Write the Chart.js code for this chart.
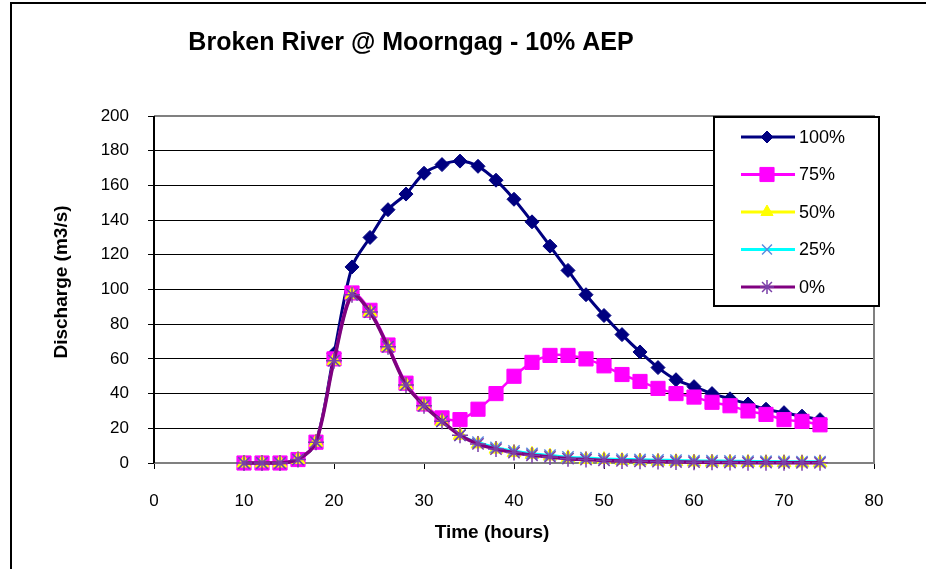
<!DOCTYPE html>
<html>
<head>
<meta charset="utf-8">
<title>Broken River @ Moorngag - 10% AEP</title>
<script src="https://cdn.jsdelivr.net/npm/chart.js@4/dist/chart.umd.min.js"></script>
<style>
    html, body { margin: 0; padding: 0; background: #fff; }
    #wrap { width: 926px; height: 569px; position: relative; }
</style>
</head>
<body>
<div id="wrap"><canvas id="grafico" width="926" height="569"></canvas></div>
<script>
// ---- datos ----
const tiempo = [10, 12, 14, 16, 18, 20, 22, 24, 26, 28, 30, 32, 34, 36, 38, 40, 42, 44, 46, 48, 50, 52, 54, 56, 58, 60, 62, 64, 66, 68, 70, 72, 74];

const q100 = [0, 0, 0, 2, 12, 63, 113, 130, 146, 155, 167, 172, 174, 171, 163, 152, 139, 125, 111, 97, 85, 74, 64, 55, 48, 44, 40, 37, 34, 31, 29, 27, 25];
const q75 = [0, 0, 0, 2, 12, 60, 98, 88, 68, 46, 34, 26, 25, 31, 40, 50, 58, 62, 62, 60, 56, 51, 47, 43, 40, 38, 35, 33, 30, 28, 25, 24, 22];
const q50 = [0, 0, 0, 2, 12, 59, 97, 87, 67, 45, 33, 24, 16, 11, 8, 6, 5, 4, 3, 2, 2, 1.5, 1.2, 1, 0.8, 0.6, 0.5, 0.4, 0.3, 0.2, 0.2, 0.1, 0.1];
const q25 = [0, 0, 0, 2, 12, 59, 97, 87, 67, 45, 33, 24, 16, 12, 9, 7, 5.5, 4.5, 3.5, 3, 2.5, 2.2, 2, 1.8, 1.6, 1.4, 1.3, 1.2, 1.1, 1, 0.9, 0.8, 0.8];
const q0 = [0, 0, 0, 2, 12, 59, 97, 87, 67, 45, 33, 24, 16, 11, 8, 6, 4.5, 3.5, 2.5, 2, 1.5, 1.2, 1, 0.8, 0.6, 0.5, 0.4, 0.3, 0.2, 0.2, 0.1, 0.1, 0.1];

const etiquetas = ['100%', '75%', '50%', '25%', '0%'];
const titulo = 'Broken River @ Moorngag - 10% AEP';
const tituloX = 'Time (hours)';
const tituloY = 'Discharge (m3/s)';

const FUENTE = '"Liberation Sans", Arial, sans-serif';

function puntos(valores) {
    return tiempo.map((t, i) => ({ x: t, y: valores[i] }));
}

// -----------------------------
// Plugin: bordes, títulos y leyenda dibujados a mano
// -----------------------------
const decoracion = {
    id: 'decoracion',
    beforeDatasetsDraw(chart) {
        const { ctx, chartArea: a } = chart;
        ctx.save();
        ctx.lineWidth = 2;
        ctx.strokeStyle = '#808080';
        ctx.beginPath();
        ctx.moveTo(a.left, a.top);
        ctx.lineTo(a.right, a.top);
        ctx.lineTo(a.right, a.bottom);
        ctx.lineTo(a.left, a.bottom);
        ctx.stroke();
        ctx.strokeStyle = '#000';
        ctx.beginPath();
        ctx.moveTo(a.left, a.top);
        ctx.lineTo(a.left, a.bottom);
        ctx.stroke();
        ctx.restore();
    },
    afterDraw(chart) {
        const { ctx } = chart;
        ctx.save();

        // marco exterior del gráfico
        ctx.strokeStyle = '#000';
        ctx.lineWidth = 2;
        ctx.strokeRect(11, 3, 1000, 1000);

        // título
        ctx.fillStyle = '#000';
        ctx.font = 'bold 25px ' + FUENTE;
        ctx.textAlign = 'center';
        ctx.textBaseline = 'alphabetic';
        ctx.fillText(titulo, 411, 50);

        // título eje X
        ctx.font = 'bold 19px ' + FUENTE;
        ctx.fillText(tituloX, 492, 538);

        // título eje Y
        ctx.save();
        ctx.translate(67, 282);
        ctx.rotate(-Math.PI / 2);
        ctx.fillText(tituloY, 0, 0);
        ctx.restore();

        // leyenda
        const bx = 714, by = 117, bw = 165, bh = 189;
        ctx.fillStyle = '#fff';
        ctx.fillRect(bx, by, bw, bh);
        ctx.strokeStyle = '#000';
        ctx.lineWidth = 2;
        ctx.strokeRect(bx, by, bw, bh);

        chart.data.datasets.forEach((ds, i) => {
            const y = 137 + i * 37.5;
            ctx.strokeStyle = ds.borderColor;
            ctx.lineWidth = 3;
            ctx.beginPath();
            ctx.moveTo(741, y);
            ctx.lineTo(795, y);
            ctx.stroke();
            ctx.fillStyle = ds.pointBackgroundColor;
            ctx.strokeStyle = ds.pointBorderColor;
            ctx.lineWidth = ds.pointBorderWidth;
            Chart.helpers.drawPoint(ctx, {
                pointStyle: ds.pointStyle,
                radius: ds.legendRadius,
                borderWidth: ds.pointBorderWidth,
                rotation: 0
            }, 767, y);
            ctx.fillStyle = '#000';
            ctx.font = '18px ' + FUENTE;
            ctx.textAlign = 'left';
            ctx.textBaseline = 'middle';
            ctx.fillText(ds.label, 799, y + 1);
        });

        ctx.restore();
    }
};

// -----------------------------
// Gráfico
// -----------------------------
const series = [
    { label: etiquetas[0], data: puntos(q100), color: '#000080', estilo: 'rectRot', radio: 7, leyenda: 6, fondo: '#000080', borde: '#000080', grosor: 1, linea: 3, orden: 5 },
    { label: etiquetas[1], data: puntos(q75), color: '#FF00FF', estilo: 'rect', radio: 10, leyenda: 10, fondo: '#FF00FF', borde: '#FF00FF', grosor: 1, linea: 2.5, orden: 4 },
    { label: etiquetas[2], data: puntos(q50), color: '#FFFF00', estilo: 'triangle', radio: 8, leyenda: 7, fondo: '#FFFF00', borde: '#FFFF00', grosor: 1, linea: 2.5, orden: 3 },
    { label: etiquetas[3], data: puntos(q25), color: '#00FFFF', estilo: 'crossRot', radio: 8, leyenda: 7, fondo: '#00FFFF', borde: '#5A8CE0', grosor: 1.5, linea: 2.5, orden: 2 },
    { label: etiquetas[4], data: puntos(q0), color: '#800080', estilo: 'star', radio: 8, leyenda: 7, fondo: '#800080', borde: '#7A3FA8', grosor: 1.5, linea: 3.5, orden: 1 }
];

new Chart(document.getElementById('grafico'), {
    type: 'line',
    data: {
        datasets: series.map(s => ({
            label: s.label,
            data: s.data,
            borderColor: s.color,
            backgroundColor: s.color,
            borderWidth: s.linea,
            tension: 0.3,
            pointStyle: s.estilo,
            pointRadius: s.radio,
            pointBackgroundColor: s.fondo,
            pointBorderColor: s.borde,
            pointBorderWidth: s.grosor,
            legendRadius: s.leyenda,
            order: s.orden,
            clip: false
        }))
    },
    options: {
        responsive: false,
        animation: false,
        devicePixelRatio: 1,
        layout: { padding: { left: 0, right: 52, top: 116, bottom: 46 } },
        plugins: {
            legend: { display: false },
            title: { display: false },
            tooltip: { enabled: false }
        },
        scales: {
            x: {
                type: 'linear',
                min: 0,
                max: 80,
                afterFit: scale => { scale.height = 60; },
                ticks: {
                    stepSize: 10,
                    color: '#000',
                    padding: 22,
                    font: { family: FUENTE, size: 17 }
                },
                grid: { drawOnChartArea: false, drawTicks: true, tickLength: 6, color: '#000' },
                border: { display: false }
            },
            y: {
                min: 0,
                max: 200,
                afterFit: scale => { scale.width = 154; },
                ticks: {
                    stepSize: 20,
                    color: '#000',
                    padding: 19,
                    font: { family: FUENTE, size: 17 }
                },
                grid: { color: '#000', lineWidth: 1, tickLength: 6 },
                border: { display: false }
            }
        }
    },
    plugins: [decoracion]
});
</script>
</body>
</html>
